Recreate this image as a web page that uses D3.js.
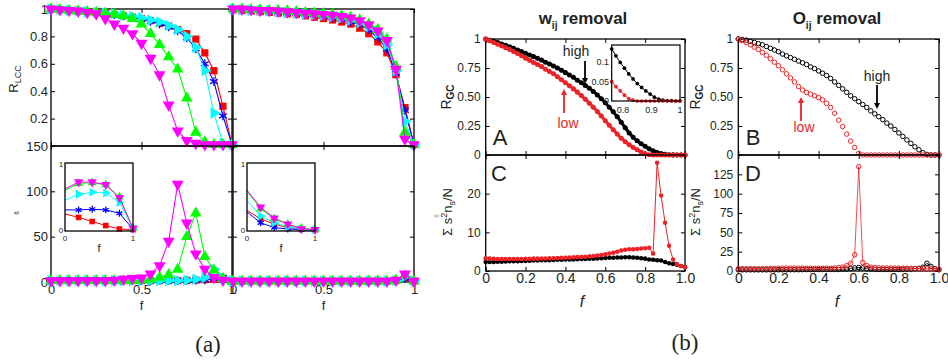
<!DOCTYPE html>
<html>
<head>
<meta charset="utf-8">
<script src="https://cdn.jsdelivr.net/npm/d3@7"></script>
<style>
  body { margin: 0; background: #fff; }
</style>
</head>
<body>
<svg id="fig" width="948" height="360"></svg>
<script>
const FONT = "'Liberation Sans', Arial, Helvetica, sans-serif";
const SERIF = "'Liberation Serif', 'DejaVu Serif', serif";

// ---------- (a) data ----------
const fA = [0, 0.05, 0.1, 0.15, 0.2, 0.25, 0.3, 0.35, 0.4, 0.45, 0.5, 0.55, 0.6, 0.65, 0.7, 0.75, 0.8, 0.85, 0.9, 0.95, 1];

const lccL_red     = [1, 0.995, 0.99, 0.985, 0.98, 0.975, 0.97, 0.96, 0.95, 0.94, 0.93, 0.915, 0.895, 0.875, 0.85, 0.82, 0.78, 0.68, 0.55, 0.29, 0.01];
const lccL_blue    = [1, 0.995, 0.99, 0.985, 0.98, 0.975, 0.97, 0.96, 0.95, 0.94, 0.925, 0.91, 0.89, 0.87, 0.84, 0.79, 0.71, 0.6, 0.47, 0.22, 0.01];
const lccL_cyan    = [1, 0.995, 0.99, 0.985, 0.98, 0.975, 0.97, 0.965, 0.955, 0.945, 0.935, 0.92, 0.905, 0.88, 0.85, 0.8, 0.72, 0.55, 0.24, 0.02, 0.01];
const lccL_green   = [1, 0.995, 0.99, 0.985, 0.98, 0.975, 0.97, 0.96, 0.95, 0.93, 0.89, 0.82, 0.74, 0.65, 0.56, 0.35, 0.1, 0.03, 0.01, 0.01, 0.01];
const lccL_magenta = [1, 0.995, 0.99, 0.985, 0.975, 0.965, 0.93, 0.89, 0.86, 0.82, 0.75, 0.64, 0.52, 0.3, 0.11, 0.04, 0.02, 0.01, 0.01, 0.01, 0.01];

const lccR_red     = [0.995, 0.99, 0.985, 0.98, 0.975, 0.97, 0.965, 0.96, 0.95, 0.94, 0.93, 0.92, 0.905, 0.89, 0.86, 0.82, 0.76, 0.68, 0.52, 0.28, 0.01];
const lccR_blue    = [1, 0.995, 0.99, 0.985, 0.98, 0.975, 0.97, 0.965, 0.96, 0.955, 0.945, 0.935, 0.925, 0.905, 0.885, 0.85, 0.79, 0.71, 0.53, 0.26, 0.01];
const lccR_cyan    = [1, 0.995, 0.99, 0.99, 0.985, 0.98, 0.975, 0.97, 0.965, 0.96, 0.955, 0.945, 0.935, 0.92, 0.9, 0.87, 0.82, 0.74, 0.55, 0.18, 0.01];
const lccR_green   = [1, 1, 0.995, 0.995, 0.99, 0.99, 0.985, 0.98, 0.975, 0.97, 0.965, 0.96, 0.95, 0.94, 0.92, 0.89, 0.85, 0.78, 0.58, 0.1, 0.01];
const lccR_magenta = [1, 1, 0.995, 0.99, 0.99, 0.985, 0.98, 0.975, 0.97, 0.965, 0.96, 0.955, 0.945, 0.935, 0.915, 0.885, 0.84, 0.77, 0.56, 0.05, 0.01];

const sL_red     = [1.5, 1.5, 1.5, 1.5, 1.5, 1.5, 1.5, 1.5, 1.5, 1.5, 1.5, 1.5, 1.5, 1.5, 1.5, 1.8, 2, 2.5, 3, 4, 1];
const sL_blue    = [1.5, 1.5, 1.5, 1.5, 1.5, 1.5, 1.5, 1.5, 1.5, 1.5, 1.5, 1.5, 1.5, 1.5, 1.5, 1.8, 2, 2.5, 4, 5, 1];
const sL_cyan    = [1.5, 1.5, 1.5, 1.5, 1.5, 1.5, 1.5, 1.5, 1.5, 1.5, 1.5, 1.5, 1.5, 1.5, 1.5, 2, 3, 5, 14, 4, 1];
const sL_green   = [1.5, 1.5, 1.5, 1.5, 1.5, 1.5, 1.5, 1.5, 1.5, 1.5, 2, 3, 5, 8, 14, 50, 76, 28, 13, 4, 1];
const sL_magenta = [1.5, 1.5, 1.5, 1.5, 1.5, 1.5, 1.5, 2, 3, 4, 4.5, 9, 18, 45, 108, 65, 31, 14, 5, 2, 1];

const sR_red     = [1, 1, 1, 1, 1, 1, 1, 1, 1, 1, 1, 1, 1, 1, 1, 1, 1, 1, 1.5, 5, 1];
const sR_blue    = [1, 1, 1, 1, 1, 1, 1, 1, 1, 1, 1, 1, 1, 1, 1, 1, 1, 1, 1.5, 4, 1];
const sR_cyan    = [1, 1, 1, 1, 1, 1, 1, 1, 1, 1, 1, 1, 1, 1, 1, 1, 1, 1, 1.5, 6, 1];
const sR_green   = [1, 1, 1, 1, 1, 1, 1, 1, 1, 1, 1, 1, 1, 1, 1, 1, 1, 1, 2, 7, 1];
const sR_magenta = [1, 1, 1, 1, 1, 1, 1, 1, 1, 1, 1, 1, 1, 1, 1, 1, 1, 1, 2, 9, 1];

// insets of the lower (a) panels
const fIn = [0, 0.2, 0.4, 0.6, 0.8, 1];
const inL_red     = [0.25, 0.2, 0.14, 0.08, 0.03, 0.02];
const inL_blue    = [0.31, 0.31, 0.32, 0.31, 0.26, 0.03];
const inL_cyan    = [0.45, 0.54, 0.57, 0.56, 0.42, 0.04];
const inL_green   = [0.6, 0.7, 0.71, 0.68, 0.5, 0.04];
const inL_magenta = [0.62, 0.72, 0.72, 0.68, 0.49, 0.04];
const inR_red     = [0.3, 0.18, 0.1, 0.05, 0.03, 0.02];
const inR_blue    = [0.28, 0.12, 0.05, 0.03, 0.02, 0.01];
const inR_cyan    = [0.45, 0.22, 0.12, 0.06, 0.03, 0.02];
const inR_green   = [0.58, 0.33, 0.18, 0.1, 0.04, 0.02];
const inR_magenta = [0.6, 0.35, 0.19, 0.1, 0.03, 0.02];

// ---------- (b) data ----------
const fB = [0, 0.02, 0.04, 0.06, 0.08, 0.1, 0.12, 0.14, 0.16, 0.18, 0.2, 0.22, 0.24, 0.26, 0.28, 0.3, 0.32, 0.34, 0.36, 0.38, 0.4,
            0.42, 0.44, 0.46, 0.48, 0.5, 0.52, 0.54, 0.56, 0.58, 0.6, 0.62, 0.64, 0.66, 0.68, 0.7, 0.72, 0.74, 0.76, 0.78, 0.8,
            0.82, 0.84, 0.86, 0.88, 0.9, 0.92, 0.94, 0.96, 0.98, 1];

const rgcW_high = [1, 0.99, 0.98, 0.97, 0.957, 0.945, 0.932, 0.92, 0.905, 0.892, 0.877, 0.862, 0.848, 0.833, 0.818, 0.8, 0.785, 0.768, 0.75, 0.73, 0.71,
                   0.69, 0.67, 0.645, 0.622, 0.6, 0.575, 0.548, 0.518, 0.485, 0.45, 0.412, 0.372, 0.33, 0.283, 0.235, 0.19, 0.152, 0.122, 0.097, 0.075,
                   0.053, 0.036, 0.022, 0.012, 0.006, 0.003, 0.001, 0, 0, 0];
const rgcW_low  = [1, 0.985, 0.97, 0.955, 0.94, 0.925, 0.91, 0.893, 0.875, 0.855, 0.835, 0.816, 0.798, 0.78, 0.762, 0.74, 0.72, 0.7, 0.675, 0.648, 0.622,
                   0.596, 0.57, 0.542, 0.512, 0.48, 0.447, 0.412, 0.375, 0.336, 0.296, 0.256, 0.218, 0.18, 0.145, 0.115, 0.088, 0.064, 0.045, 0.026, 0.01,
                   0.003, 0, 0, 0, 0, 0, 0, 0, 0, 0];

const sumW_high = [2.3, 2.3, 2.35, 2.4, 2.4, 2.45, 2.5, 2.5, 2.55, 2.6, 2.6, 2.65, 2.7, 2.7, 2.75, 2.8, 2.8, 2.85, 2.9, 2.9, 2.95,
                   3, 3, 3.05, 3.1, 3.1, 3.15, 3.2, 3.25, 3.3, 3.35, 3.4, 3.45, 3.5, 3.5, 3.55, 3.55, 3.5, 3.4, 3.3, 3.2,
                   3, 2.9, 2.8, 2.7, 2.3, 2, 1.8, 1.6, 1.3, 1];
const sumW_low  = [3.3, 3.2, 3.15, 3.1, 3.1, 3.1, 3.1, 3.1, 3.1, 3.1, 3.15, 3.15, 3.2, 3.2, 3.25, 3.25, 3.3, 3.3, 3.35, 3.4, 3.45,
                   3.5, 3.55, 3.6, 3.65, 3.7, 3.8, 3.9, 4, 4.15, 4.3, 4.5, 4.7, 5, 5.3, 5.5, 5.6, 5.6, 5.7, 5.8, 5.9,
                   6, 4.5, 28, 19.5, 12.5, 6.5, 3, 1.8, 1.3, 1];

const rgcO_high = [1, 0.995, 0.99, 0.98, 0.97, 0.96, 0.95, 0.935, 0.92, 0.905, 0.89, 0.87, 0.855, 0.84, 0.825, 0.81, 0.795, 0.78, 0.76, 0.745, 0.725,
                   0.705, 0.685, 0.66, 0.63, 0.6, 0.57, 0.54, 0.51, 0.485, 0.46, 0.435, 0.41, 0.38, 0.355, 0.33, 0.305, 0.275, 0.25, 0.22, 0.19,
                   0.16, 0.13, 0.1, 0.07, 0.045, 0.02, 0.005, 0, 0, 0];
const rgcO_low  = [1, 0.985, 0.97, 0.95, 0.93, 0.91, 0.885, 0.86, 0.83, 0.8, 0.77, 0.735, 0.7, 0.665, 0.63, 0.59, 0.56, 0.54, 0.525, 0.51, 0.495,
                   0.475, 0.445, 0.41, 0.36, 0.3, 0.245, 0.18, 0.12, 0.065, 0.015, 0, 0, 0, 0, 0, 0, 0, 0, 0, 0,
                   0, 0, 0, 0, 0, 0, 0, 0, 0, 0];

const sumO_high = [1.5, 1.5, 1.5, 1.5, 1.5, 1.5, 1.5, 1.5, 1.5, 1.5, 1.6, 1.6, 1.6, 1.7, 1.7, 1.7, 1.8, 1.8, 1.8, 1.9, 1.9,
                   2, 2, 2, 2, 2, 2.2, 2.5, 3, 4, 4.5, 4, 3, 2.5, 2.2, 2, 2, 2, 2, 2, 2,
                   2.2, 2.4, 2.6, 3, 3.5, 5, 10, 6, 3, 1.5];
const sumO_low  = [3, 3, 3, 3, 3, 3, 3, 3.2, 3.3, 3.4, 3.5, 3.7, 3.8, 3.8, 3.8, 3.8, 3.7, 3.6, 3.5, 3.5, 3.5,
                   3.5, 3.5, 3.6, 4, 4.5, 5, 7, 10, 21, 135, 11, 7, 5, 4.5, 4.2, 4, 4, 3.9, 3.8, 3.7,
                   3.6, 3.5, 3.4, 3.3, 3.2, 3, 2.9, 2.8, 2.6, 2.5];

// inset of panel A
const fInA      = [0.76, 0.775, 0.79, 0.805, 0.82, 0.835, 0.85, 0.865, 0.88, 0.895, 0.91, 0.925, 0.94, 0.955, 0.97, 0.985, 1];
const inA_high  = [0.135, 0.117, 0.1, 0.085, 0.07, 0.057, 0.045, 0.035, 0.026, 0.018, 0.01, 0.005, 0.002, 0.001, 0.001, 0, 0];
const inA_low   = [0.05, 0.037, 0.026, 0.015, 0.006, 0.002, 0, 0, 0, 0, 0, 0, 0, 0, 0, 0, 0];

// ---------- helpers ----------
const svg = d3.select("#fig");
svg.append("rect").attr("width", 948).attr("height", 360).attr("fill", "#fff");

const RED = "#ff0000", BLUE = "#0000ff", CYAN = "#00ffff", GREEN = "#00ff00", MAGENTA = "#ff00ff";
const BRED = "#ec2227";
const asterisk = d3.symbolAsterisk || d3.symbolCross;

function panel(x, y, o) {
  const g = svg.append("g");
  const [x0, x1] = x.range(), [y0, y1] = y.range();
  const ts = o.ts || 4;
  const bottom = g.append("g").attr("transform", `translate(0,${y0})`)
    .call(d3.axisBottom(x).tickValues(o.xt).tickSize(-ts).tickPadding(o.xpad || 3).tickFormat(o.xf || (() => "")));
  bottom.attr("font-size", o.xfs || 13).attr("font-family", FONT);
  g.append("g").attr("transform", `translate(0,${y1})`)
    .call(d3.axisTop(x).tickValues(o.xt).tickSize(-ts).tickFormat(() => ""));
  const left = g.append("g").attr("transform", `translate(${x0},0)`)
    .call(d3.axisLeft(y).tickValues(o.yt).tickSize(-ts).tickPadding(o.ypad || 3).tickFormat(o.yf || (() => "")));
  left.attr("font-size", o.yfs || 13).attr("font-family", FONT);
  g.append("g").attr("transform", `translate(${x1},0)`)
    .call(d3.axisRight(y).tickValues(o.yt).tickSize(-ts).tickFormat(() => ""));
  g.selectAll(".domain").remove();
  g.selectAll(".tick line").attr("stroke", "#000").attr("stroke-width", 1);
  g.selectAll(".tick text").attr("fill", "#231f20");
  g.append("rect").attr("x", x0).attr("y", y1).attr("width", x1 - x0).attr("height", y0 - y1)
    .attr("fill", "none").attr("stroke", "#000").attr("stroke-width", o.bw || 1.3);
  return g;
}

function series(g, x, y, xs, ys, color, sym, o = {}) {
  const pts = xs.map((f, i) => [f, ys[i]]);
  if (o.lw) {
    g.append("path").datum(pts)
      .attr("d", d3.line().x(d => x(d[0])).y(d => y(d[1])))
      .attr("fill", "none").attr("stroke", color).attr("stroke-width", o.lw);
  }
  const mpts = o.skipFirst ? pts.slice(1) : pts;
  const stroke = sym === asterisk;
  g.append("g").selectAll("path").data(mpts).join("path")
    .attr("transform", d => `translate(${x(d[0])},${y(d[1])}) rotate(${o.rot || 0})`)
    .attr("d", d3.symbol().type(sym).size(o.size || 50))
    .attr("fill", stroke || o.open ? "none" : color)
    .attr("stroke", stroke || o.open ? color : "none")
    .attr("stroke-width", o.sw || 1.3);
}

function text(x, y, str, o = {}) {
  const t = svg.append("text").attr("x", x).attr("y", y)
    .attr("font-family", o.font || FONT).attr("font-size", o.size || 13)
    .attr("fill", o.color || "#231f20").attr("text-anchor", o.anchor || "middle");
  if (o.weight) t.attr("font-weight", o.weight);
  if (o.style) t.attr("font-style", o.style);
  if (o.rotate) t.attr("transform", `rotate(${o.rotate},${x},${y})`);
  if (str !== null) t.text(str);
  return t;
}

function arrow(x, ya, yb, color) {
  // line from ya to yb, head at yb
  const dir = yb > ya ? 1 : -1;
  svg.append("line").attr("x1", x).attr("x2", x).attr("y1", ya).attr("y2", yb - dir * 5)
    .attr("stroke", color).attr("stroke-width", 1.8);
  svg.append("path").attr("d", `M${x - 3},${yb - dir * 6}L${x + 3},${yb - dir * 6}L${x},${yb}Z`).attr("fill", color);
}

// ---------- panel (a) ----------
const xAL = d3.scaleLinear().domain([0, 1]).range([51, 232]);
const xAR = d3.scaleLinear().domain([0, 1]).range([233, 414]);
const yTop = d3.scaleLinear().domain([0, 1]).range([146, 9]);
const yBot = d3.scaleLinear().domain([0, 150]).range([282, 146]);

const fmtA = d => String(d);
// the top panel's "0" sits under the "150" of the lower panel, so only the lower one is written
const gTL = panel(xAL, yTop, { xt: [0, 0.5, 1], yt: [0, 0.2, 0.4, 0.6, 0.8, 1], yf: d => d === 0 ? "" : String(d), ypad: 3 });
const gTR = panel(xAR, yTop, { xt: [0, 0.5, 1], yt: [0, 0.2, 0.4, 0.6, 0.8, 1] });
const gBL = panel(xAL, yBot, { xt: [0, 0.5, 1], xf: fmtA, xpad: 3, yt: [0, 50, 100, 150], yf: fmtA, ypad: 3 });
const gBR = panel(xAR, yBot, { xt: [0, 0.5, 1], xf: fmtA, xpad: 3, yt: [0, 50, 100, 150] });

const styles = [
  { c: RED, sym: d3.symbolSquare, rot: 0, size: 52 },
  { c: BLUE, sym: asterisk, rot: 0, size: 55 },
  { c: CYAN, sym: d3.symbolTriangle, rot: 90, size: 58 },
  { c: GREEN, sym: d3.symbolTriangle, rot: 0, size: 58 },
  { c: MAGENTA, sym: d3.symbolTriangle, rot: 180, size: 62 }
];

function group5(g, x, y, xs, arrs, o = {}) {
  arrs.forEach((ys, i) => {
    const s = styles[i];
    series(g, x, y, xs, ys, s.c, s.sym, {
      lw: o.lw || 1.1, rot: s.rot, size: s.size * (o.scale || 1), skipFirst: o.skipFirst
    });
  });
}

group5(gTL, xAL, yTop, fA, [lccL_red, lccL_blue, lccL_cyan, lccL_green, lccL_magenta]);
group5(gTR, xAR, yTop, fA, [lccR_red, lccR_blue, lccR_cyan, lccR_green, lccR_magenta]);
group5(gBL, xAL, yBot, fA, [sL_red, sL_blue, sL_cyan, sL_green, sL_magenta]);
group5(gBR, xAR, yBot, fA, [sR_red, sR_blue, sR_cyan, sR_green, sR_magenta]);

// insets
function insetA(x0, arrs, cx) {
  const xi = d3.scaleLinear().domain([0, 1]).range([x0, x0 + 68]);
  const yi = d3.scaleLinear().domain([0, 1]).range([231, 163]);
  const g = svg.append("g");
  g.append("rect").attr("x", x0).attr("y", 163).attr("width", 68).attr("height", 68).attr("fill", "#fff");
  group5(g, xi, yi, fIn, arrs, { lw: 1, scale: 0.6, skipFirst: true });
  g.append("rect").attr("x", x0).attr("y", 163).attr("width", 68).attr("height", 68)
    .attr("fill", "none").attr("stroke", "#000").attr("stroke-width", 1.3);
  text(x0 - 4, 167, "1", { size: 8 });
  text(x0 - 4, 233, "0", { size: 8 });
  text(x0, 241, "0", { size: 8 });
  text(x0 + 68, 241, "1", { size: 8 });
  text(cx, 252, "f", { size: 11 });
}
insetA(65, [inL_red, inL_blue, inL_cyan, inL_green, inL_magenta], 99);
insetA(247, [inR_red, inR_blue, inR_cyan, inR_green, inR_magenta], 281);

// (a) labels
const rl = text(18, 79, null, { size: 13, rotate: -90 });
rl.append("tspan").text("R");
rl.append("tspan").attr("font-size", 9).attr("dy", 3).text("LCC");
text(19, 213, "s̄", { size: 7, rotate: -90 });
text(439, 216, "s̄", { size: 7, rotate: -90, color: "#888" });
text(141.5, 310, "f", { size: 13 });
text(323.5, 310, "f", { size: 13 });
text(208, 352, "(a)", { size: 23, font: SERIF });

// ---------- panel (b) ----------
const xBA = d3.scaleLinear().domain([0, 1]).range([485.7, 685]);
const xBB = d3.scaleLinear().domain([0, 1]).range([738.3, 939]);
const yR = d3.scaleLinear().domain([0, 1]).range([155, 39]);
const yC = d3.scaleLinear().domain([0, 30]).range([271, 155]);
const yD = d3.scaleLinear().domain([0, 150]).range([271, 155]);

const xt = [0, 0.2, 0.4, 0.6, 0.8, 1];
const fmtX = d => d === 0 ? "0" : d3.format(".1f")(d);
const fmtR = d => ({ 0: "0", 0.25: "0.25", 0.5: "0.50", 0.75: "0.75", 1: "1" })[d];

const gA = panel(xBA, yR, { xt, yt: [0, 0.25, 0.5, 0.75, 1], yf: fmtR, yfs: 12, ypad: 5 });
const gC = panel(xBA, yC, { xt, xf: fmtX, xfs: 14, xpad: 2, yt: [0, 10, 20, 30], yf: d => d === 30 ? "" : String(d), yfs: 12, ypad: 5 });
const gB = panel(xBB, yR, { xt, yt: [0, 0.25, 0.5, 0.75, 1], yf: fmtR, yfs: 12, ypad: 5 });
const gD = panel(xBB, yD, { xt, xf: fmtX, xfs: 14, xpad: 2, yt: [0, 25, 50, 75, 100, 125, 150], yf: d => d === 150 ? "" : String(d), yfs: 12, ypad: 5 });

series(gA, xBA, yR, fB, rgcW_high, "#000", d3.symbolCircle, { lw: 3, size: 20 });
series(gA, xBA, yR, fB, rgcW_low, BRED, d3.symbolCircle, { lw: 3, size: 20 });
series(gC, xBA, yC, fB, sumW_high, "#000", d3.symbolCircle, { lw: 1.5, size: 16 });
series(gC, xBA, yC, fB, sumW_low, BRED, d3.symbolCircle, { lw: 1, size: 16 });

series(gB, xBB, yR, fB, rgcO_high, "#000", d3.symbolCircle, { size: 16, open: true, sw: 1 });
series(gB, xBB, yR, fB, rgcO_low, BRED, d3.symbolCircle, { size: 16, open: true, sw: 1 });
series(gD, xBB, yD, fB, sumO_high, "#000", d3.symbolCircle, { lw: 0.8, size: 16, open: true, sw: 1 });
series(gD, xBB, yD, fB, sumO_low, BRED, d3.symbolCircle, { lw: 0.8, size: 16, open: true, sw: 1 });

// inset in A
{
  const xi = d3.scaleLinear().domain([0.76, 1]).range([611.7, 680]);
  const yi = d3.scaleLinear().domain([0, 0.145]).range([101, 45]);
  const g = svg.append("g");
  g.append("rect").attr("x", 611.7).attr("y", 45).attr("width", 68.3).attr("height", 56).attr("fill", "#fff");
  series(g, xi, yi, fInA, inA_high, "#000", d3.symbolCircle, { lw: 1, size: 11 });
  series(g, xi, yi, fInA, inA_low, BRED, d3.symbolCircle, { lw: 1, size: 11 });
  g.append("rect").attr("x", 611.7).attr("y", 45).attr("width", 68.3).attr("height", 56)
    .attr("fill", "none").attr("stroke", "#000").attr("stroke-width", 1.2);
  [0, 0.05, 0.1].forEach(v => text(609, yi(v) + 3, v === 0 ? "0" : String(v), { size: 9, anchor: "end" }));
  [0.8, 0.9, 1].forEach(v => text(xi(v), 113, String(v), { size: 9 }));
}

// titles
const t1 = text(583, 24, null, { size: 17, weight: "bold" });
t1.append("tspan").text("w");
t1.append("tspan").attr("font-size", 10).attr("dy", 5).text("ij");
t1.append("tspan").attr("dy", -5).text(" removal");
const t2 = text(837, 24, null, { size: 17, weight: "bold" });
t2.append("tspan").text("O");
t2.append("tspan").attr("font-size", 10).attr("dy", 5).text("ij");
t2.append("tspan").attr("dy", -5).text(" removal");

// y labels
function rgcLabel(x, y) {
  const t = text(x, y, null, { size: 14, rotate: -90 });
  t.append("tspan").text("R");
  t.append("tspan").attr("font-size", 10).attr("font-weight", "bold").attr("dy", 3).text("GC");
}
rgcLabel(451, 97);
rgcLabel(700, 97);
function sumLabel(x, y) {
  const t = text(x, y, null, { size: 13, rotate: -90 });
  t.append("tspan").text("Σ s");
  t.append("tspan").attr("font-size", 9).attr("dy", -5).text("2");
  t.append("tspan").attr("dy", 5).text("n");
  t.append("tspan").attr("font-size", 9).attr("dy", 3).text("s");
  t.append("tspan").attr("dy", -3).text("/N");
}
sumLabel(452, 212);
sumLabel(700, 212);

// panel letters
text(500, 145, "A", { size: 22 });
text(753, 145, "B", { size: 22 });
text(499, 181, "C", { size: 22 });
text(753, 181, "D", { size: 22 });

// annotations
text(576, 56, "high", { size: 14 });
arrow(585, 61, 84, "#000");
text(568, 128, "low", { size: 14, color: BRED });
arrow(564, 113, 89, BRED);
text(877, 81, "high", { size: 14 });
arrow(877, 85, 109, "#000");
text(804, 132, "low", { size: 14, color: BRED });
arrow(801, 121, 97, BRED);

// axis titles and label (b)
text(582, 307, "f", { size: 16, style: "italic" });
text(837, 307, "f", { size: 16, style: "italic" });
text(685, 350, "(b)", { size: 23, font: SERIF });
</script>
</body>
</html>
